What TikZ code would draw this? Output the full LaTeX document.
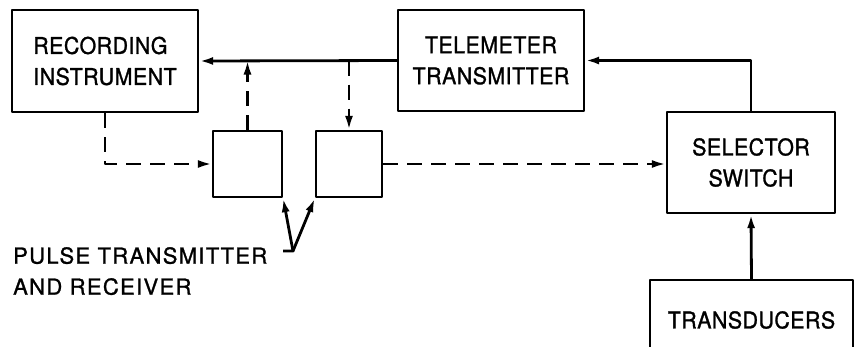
\documentclass[tikz,border=0pt]{standalone}
\usepackage{fontspec}
\setmainfont{TeX Gyre Heros}
\newfontfamily\blkfont{TeX Gyre Heros}[FakeStretch=0.93,FakeBold=1.2,LetterSpace=2]
\newfontfamily\lblfont{TeX Gyre Heros}[LetterSpace=6,FakeBold=1.2]
\usetikzlibrary{arrows.meta,calc,positioning}

\begin{document}
\begin{tikzpicture}[x=1pt,y=-1pt,>={Latex[length=14pt,width=8pt]},line join=round]
\useasboundingbox (0,0) rectangle (855,346);
\tikzset{blk/.style={draw=black,line width=2.3pt,inner sep=0pt,align=center,font=\blkfont\fontsize{23}{31}\selectfont},
  sig/.style={draw=black,line width=2.8pt},
  pulse/.style={draw=black,line width=2.5pt,dash pattern=on 15pt off 9pt}}
% main blocks
\node[blk,align=left,minimum width=186pt,minimum height=102pt] (rec) at (105,61) {RECORDING\\INSTRUMENT};
\node[blk,minimum width=186pt,minimum height=101pt] (tele) at (491,60.5) {TELEMETER\\TRANSMITTER};
\node[blk,minimum width=168pt,minimum height=101pt] (sel) at (751,162.5) {SELECTOR\\SWITCH};
\node[blk,minimum width=203pt,minimum height=80pt] (trans) at (751.5,320) {TRANSDUCERS};
% pulse transmitter and receiver
\node[blk,minimum width=69pt,minimum height=66pt] (ptx) at (247.5,164) {};
\node[blk,minimum width=66pt,minimum height=66pt] (prx) at (349,164) {};
\node[anchor=north west,align=left,inner sep=0pt,font=\lblfont\fontsize{22}{31}\selectfont] (lbl) at (13,247) {PULSE TRANSMITTER\\AND RECEIVER};
\coordinate (hook) at (283,251);
\coordinate (tip) at (293,251);
% signal paths
\draw[sig,->] (tele.west) -- (rec.east);
\draw[sig,->] (sel.north) |- (tele.east);
\draw[sig,->] (trans.north) -- (sel.south);
\draw[pulse,->] (rec.south) |- (ptx.west);
\draw[pulse,->] (ptx.north) -- (ptx.north |- tele.west);
\draw[pulse,->] (prx.north |- tele.west) -- (prx.north);
\draw[pulse,->] (prx.east) -- (prx.east -| sel.west);
\draw[sig,->] (hook) -- (tip) -- (ptx.south east);
\draw[sig,->] (tip) -- (prx.south west);
\end{tikzpicture}
\end{document}
